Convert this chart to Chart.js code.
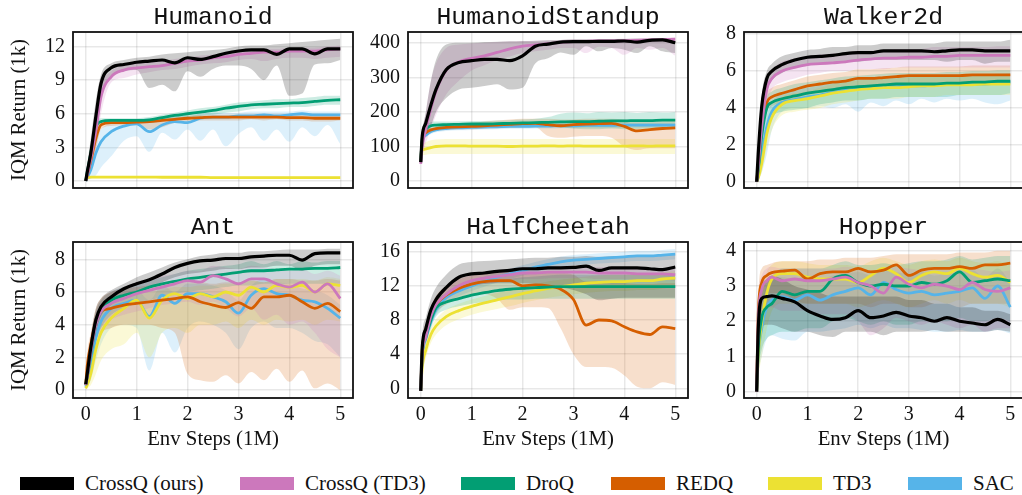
<!DOCTYPE html>
<html lang="en">
<head>
<meta charset="UTF-8">
<title>IQM Return - CrossQ benchmarks</title>
<style>
  body { margin:0; padding:0; background:#fff; width:1022px; height:495px; overflow:hidden; position:relative; font-family:"Liberation Serif", "Times New Roman", serif; }
  canvas { position:absolute; }
  .sw { position:absolute; top:477px; width:54px; height:13px; }
  .lt { position:absolute; top:473px; font-size:21px; line-height:21px; color:#111; white-space:nowrap; }
</style>
</head>
<body>
<canvas id="c-hum"></canvas>
<canvas id="c-hs"></canvas>
<canvas id="c-wk"></canvas>
<canvas id="c-ant"></canvas>
<canvas id="c-hc"></canvas>
<canvas id="c-hop"></canvas>
<div id="legend"></div>

<script src="https://cdn.jsdelivr.net/npm/chart.js"></script>
<script>
// x positions (1M env steps) shared by every curve
const steps = [0, 0.03, 0.1, 0.2, 0.3, 0.5, 0.75, 1, 1.25, 1.5, 1.75, 2, 2.25, 2.5, 2.75, 3, 3.25, 3.5, 3.75, 4, 4.25, 4.5, 4.75, 5];
const xTicks = [0, 1, 2, 3, 4, 5];

const algoNames  = ['CrossQ (ours)', 'CrossQ (TD3)', 'DroQ', 'REDQ', 'TD3', 'SAC'];
const algoColors = ['#000000', '#cc78bc', '#029e73', '#d55e00', '#ece133', '#56b4e9'];
const algoBands  = ['rgba(0,0,0,0.2)', 'rgba(204,120,188,0.2)', 'rgba(2,158,115,0.2)', 'rgba(213,94,0,0.2)', 'rgba(236,225,51,0.2)', 'rgba(86,180,233,0.2)'];

// ---- Humanoid ----
const hum_yticks = [0, 3, 6, 9, 12];
const hum_crossq    = [0, 0.8, 2.5, 5.8, 8.7, 10.1, 10.4, 10.6, 10.7, 10.8, 10.55, 11.0, 10.85, 11.1, 11.4, 11.6, 11.7, 11.7, 11.3, 11.8, 11.8, 11.35, 11.8, 11.8];
const hum_crossq_lo = [0, 0.3, 1.5, 4.5, 7.5, 9.3, 9.8, 9.9, 8.3, 8.6, 8.0, 9.8, 9.3, 10.0, 10.3, 10.3, 10.0, 9.0, 10.3, 7.6, 7.8, 10.4, 10.5, 10.8];
const hum_crossq_hi = [0.2, 1.5, 3.8, 7.2, 9.5, 10.5, 10.8, 11.0, 11.1, 11.3, 11.4, 11.5, 11.6, 11.7, 11.8, 12.0, 12.1, 12.1, 12.2, 12.3, 12.4, 12.5, 12.6, 12.7];
const hum_td3q      = [0, 0.5, 2.0, 4.5, 7.5, 9.3, 9.9, 10.1, 10.2, 10.3, 10.5, 10.7, 10.8, 11.0, 11.1, 11.3, 11.4, 11.5, 11.5, 11.6, 11.6, 11.6, 11.7, 11.8];
const hum_td3q_lo   = [0, 0.2, 1.0, 3.0, 6.0, 8.8, 9.2, 9.5, 9.7, 9.9, 10.0, 10.2, 10.4, 10.5, 10.6, 10.8, 10.9, 10.7, 10.9, 11.0, 11.0, 10.9, 11.0, 11.1];
const hum_td3q_hi   = [0.2, 1.2, 3.0, 6.0, 8.5, 9.8, 10.3, 10.5, 10.6, 10.7, 10.9, 11.0, 11.2, 11.3, 11.4, 11.6, 11.7, 11.8, 11.8, 11.9, 11.9, 11.9, 12.0, 12.1];
const hum_droq      = [0, 0.8, 2.5, 4.8, 5.3, 5.4, 5.4, 5.4, 5.45, 5.65, 5.85, 6.0, 6.15, 6.3, 6.5, 6.65, 6.8, 6.85, 6.9, 6.95, 7.0, 7.1, 7.2, 7.25];
const hum_droq_lo   = [0, 0.4, 1.8, 4.2, 5.0, 5.2, 5.2, 5.2, 5.2, 5.3, 5.5, 5.6, 5.8, 5.9, 6.1, 6.2, 6.4, 6.5, 6.5, 6.6, 6.6, 6.7, 6.8, 6.8];
const hum_droq_hi   = [0.2, 1.2, 3.2, 5.3, 5.6, 5.6, 5.6, 5.6, 5.7, 5.9, 6.1, 6.3, 6.5, 6.6, 6.8, 7.0, 7.1, 7.2, 7.3, 7.3, 7.4, 7.5, 7.6, 7.6];
const hum_redq      = [0, 0.5, 1.8, 3.8, 5.0, 5.2, 5.2, 5.25, 5.3, 5.4, 5.5, 5.6, 5.65, 5.7, 5.7, 5.7, 5.7, 5.7, 5.7, 5.65, 5.65, 5.6, 5.6, 5.6];
const hum_redq_lo   = [0, 0.2, 1.0, 2.8, 4.6, 4.9, 5.0, 5.0, 4.6, 4.8, 5.2, 5.3, 5.4, 5.4, 5.4, 5.4, 5.5, 5.4, 5.5, 5.4, 5.4, 5.3, 5.3, 5.4];
const hum_redq_hi   = [0.2, 0.9, 2.8, 4.8, 5.3, 5.4, 5.4, 5.5, 5.5, 5.6, 5.7, 5.8, 5.9, 5.9, 5.9, 5.9, 5.9, 5.9, 5.9, 5.9, 5.9, 5.8, 5.8, 5.8];
const hum_td3       = [0.25, 0.3, 0.35, 0.35, 0.35, 0.35, 0.35, 0.35, 0.35, 0.33, 0.33, 0.33, 0.33, 0.3, 0.3, 0.3, 0.3, 0.3, 0.3, 0.3, 0.3, 0.3, 0.3, 0.3];
const hum_td3_lo    = [0.15, 0.2, 0.25, 0.25, 0.25, 0.25, 0.25, 0.25, 0.25, 0.23, 0.23, 0.23, 0.23, 0.2, 0.2, 0.2, 0.2, 0.2, 0.2, 0.2, 0.2, 0.2, 0.2, 0.2];
const hum_td3_hi    = [0.35, 0.4, 0.45, 0.45, 0.45, 0.45, 0.45, 0.45, 0.45, 0.43, 0.43, 0.43, 0.43, 0.4, 0.4, 0.4, 0.4, 0.4, 0.4, 0.4, 0.4, 0.4, 0.4, 0.4];
const hum_sac       = [0, 0.3, 1.0, 2.5, 3.5, 4.4, 4.9, 5.1, 4.4, 5.0, 5.3, 5.2, 5.6, 5.7, 5.7, 5.8, 5.8, 5.9, 5.8, 5.9, 6.0, 5.9, 5.9, 5.9];
const hum_sac_lo    = [0, 0.1, 0.2, 0.5, 1.2, 2.2, 3.6, 4.0, 2.6, 4.3, 3.7, 4.6, 3.6, 4.6, 3.1, 4.2, 4.8, 3.6, 4.6, 3.5, 4.8, 4.0, 5.0, 3.3];
const hum_sac_hi    = [0.2, 0.6, 1.8, 3.8, 4.6, 5.2, 5.4, 5.5, 5.6, 5.6, 5.9, 5.8, 6.0, 6.1, 6.1, 6.1, 6.2, 6.2, 6.2, 6.2, 6.3, 6.2, 6.2, 6.2];

// ---- HumanoidStandup ----
const hs_yticks = [0, 100, 200, 300, 400];
const hs_crossq    = [55, 130, 168, 220, 265, 322, 343, 348, 352, 352, 348, 362, 390, 396, 402, 403, 403, 404, 404, 405, 402, 407, 408, 400];
const hs_crossq_lo = [50, 110, 130, 160, 200, 240, 265, 270, 275, 280, 265, 270, 340, 355, 372, 365, 390, 375, 385, 380, 370, 390, 375, 370];
const hs_crossq_hi = [55, 135, 200, 290, 350, 395, 400, 400, 402, 403, 404, 405, 406, 407, 408, 410, 410, 410, 410, 411, 412, 412, 413, 413];
const hs_td3q      = [50, 100, 150, 210, 260, 320, 345, 355, 362, 372, 382, 390, 394, 397, 401, 403, 404, 405, 405, 406, 407, 408, 409, 410];
const hs_td3q_lo   = [45, 70, 110, 150, 190, 250, 290, 320, 335, 350, 360, 370, 375, 380, 385, 385, 370, 388, 385, 365, 385, 380, 385, 362];
const hs_td3q_hi   = [55, 130, 200, 290, 340, 385, 395, 398, 400, 402, 404, 405, 406, 407, 408, 410, 410, 411, 411, 412, 413, 413, 414, 415];
const hs_droq      = [55, 125, 150, 160, 162, 163, 164, 165, 165, 166, 167, 168, 169, 170, 171, 172, 172, 173, 174, 174, 175, 175, 176, 176];
const hs_droq_lo   = [50, 110, 135, 150, 152, 154, 155, 156, 156, 157, 158, 158, 158, 157, 155, 152, 150, 150, 152, 150, 150, 152, 150, 150];
const hs_droq_hi   = [60, 135, 160, 170, 172, 172, 173, 174, 174, 175, 176, 178, 180, 185, 195, 198, 196, 200, 198, 200, 197, 200, 198, 200];
const hs_redq      = [55, 120, 140, 148, 152, 155, 157, 158, 160, 162, 164, 166, 167, 163, 160, 163, 165, 166, 167, 158, 145, 149, 152, 154];
const hs_redq_lo   = [50, 110, 130, 140, 145, 148, 150, 150, 152, 153, 154, 155, 155, 130, 125, 128, 130, 130, 125, 100, 90, 95, 95, 95];
const hs_redq_hi   = [60, 130, 150, 155, 158, 162, 165, 168, 172, 175, 178, 180, 180, 180, 178, 178, 180, 180, 180, 178, 175, 175, 175, 175];
const hs_td3       = [88, 90, 93, 97, 100, 102, 102, 101, 101, 101, 100, 101, 101, 102, 101, 102, 101, 101, 101, 101, 102, 101, 102, 102];
const hs_td3_lo    = [75, 75, 76, 78, 78, 78, 78, 78, 78, 78, 78, 78, 78, 78, 78, 78, 78, 78, 78, 78, 78, 78, 78, 78];
const hs_td3_hi    = [100, 105, 112, 118, 120, 122, 122, 122, 122, 122, 122, 122, 122, 122, 122, 122, 122, 122, 122, 122, 122, 122, 122, 122];
const hs_sac       = [55, 115, 133, 143, 148, 152, 154, 155, 156, 157, 158, 158, 159, 159, 160, 160, 161, 161, 161, 162, 162, 162, 162, 162];
const hs_sac_lo    = [50, 108, 126, 136, 141, 145, 147, 148, 149, 150, 151, 151, 152, 152, 153, 153, 154, 154, 154, 155, 155, 155, 155, 155];
const hs_sac_hi    = [60, 122, 140, 150, 155, 159, 161, 162, 163, 164, 165, 165, 166, 166, 167, 167, 168, 168, 168, 169, 169, 169, 169, 169];

// ---- Walker2d ----
const wk_yticks = [0, 2, 4, 6, 8];
const wk_crossq    = [0, 1.5, 4.1, 5.6, 6.0, 6.35, 6.6, 6.75, 6.8, 6.85, 6.95, 7.0, 7.0, 7.1, 7.1, 7.1, 7.1, 7.05, 7.1, 7.15, 7.15, 7.1, 7.1, 7.1];
const wk_crossq_lo = [0, 1.0, 3.5, 5.0, 5.5, 5.9, 6.2, 6.3, 6.4, 6.4, 6.5, 6.5, 6.6, 6.6, 6.6, 6.6, 6.6, 6.6, 6.5, 6.6, 6.6, 6.4, 6.5, 6.5];
const wk_crossq_hi = [0.2, 2.0, 4.7, 6.0, 6.4, 6.8, 7.0, 7.15, 7.2, 7.3, 7.3, 7.4, 7.4, 7.5, 7.5, 7.5, 7.5, 7.5, 7.6, 7.6, 7.6, 7.6, 7.6, 7.7];
const wk_td3q      = [0, 0.8, 3.0, 5.0, 5.6, 6.0, 6.2, 6.35, 6.4, 6.45, 6.5, 6.6, 6.65, 6.7, 6.7, 6.75, 6.75, 6.8, 6.8, 6.85, 6.85, 6.85, 6.85, 6.85];
const wk_td3q_lo   = [0, 0.3, 2.0, 4.2, 5.0, 5.4, 5.6, 5.8, 5.9, 6.0, 6.0, 6.1, 6.1, 6.1, 6.2, 6.2, 6.2, 6.2, 6.2, 6.2, 6.2, 6.2, 6.2, 6.2];
const wk_td3q_hi   = [0.2, 1.4, 4.0, 5.7, 6.1, 6.5, 6.7, 6.8, 6.9, 6.95, 7.0, 7.1, 7.1, 7.15, 7.2, 7.2, 7.2, 7.3, 7.3, 7.3, 7.3, 7.3, 7.35, 7.35];
const wk_droq      = [0, 0.6, 2.5, 4.0, 4.3, 4.5, 4.65, 4.8, 4.9, 5.0, 5.1, 5.15, 5.2, 5.25, 5.3, 5.3, 5.3, 5.3, 5.35, 5.35, 5.4, 5.4, 5.45, 5.45];
const wk_droq_lo   = [0, 0.3, 1.8, 3.3, 3.6, 3.8, 3.9, 4.0, 4.2, 4.3, 4.4, 4.4, 4.5, 4.5, 4.6, 4.6, 4.6, 4.6, 4.6, 4.7, 4.7, 4.7, 4.7, 4.8];
const wk_droq_hi   = [0.2, 1.0, 3.2, 4.6, 4.9, 5.1, 5.3, 5.4, 5.5, 5.6, 5.7, 5.75, 5.8, 5.85, 5.9, 5.9, 5.9, 5.9, 5.95, 5.95, 6.0, 6.0, 6.05, 6.05];
const wk_redq      = [0, 0.8, 3.0, 4.3, 4.6, 4.8, 5.0, 5.2, 5.3, 5.4, 5.45, 5.6, 5.6, 5.65, 5.7, 5.75, 5.75, 5.75, 5.75, 5.75, 5.8, 5.8, 5.8, 5.8];
const wk_redq_lo   = [0, 0.4, 2.4, 3.8, 4.1, 4.3, 4.5, 4.7, 4.8, 4.9, 4.95, 5.1, 5.1, 5.15, 5.2, 5.25, 5.25, 5.25, 5.25, 5.25, 5.3, 5.3, 5.3, 5.3];
const wk_redq_hi   = [0.2, 1.2, 3.6, 4.8, 5.1, 5.3, 5.5, 5.7, 5.8, 5.9, 5.95, 6.1, 6.1, 6.15, 6.2, 6.25, 6.25, 6.25, 6.25, 6.25, 6.3, 6.3, 6.3, 6.3];
const wk_td3       = [0, 0.2, 1.0, 2.6, 3.5, 4.2, 4.4, 4.5, 4.65, 4.8, 4.9, 5.0, 5.05, 5.1, 5.1, 5.15, 5.2, 5.2, 5.25, 5.25, 5.25, 5.3, 5.3, 5.3];
const wk_td3_lo    = [0, 0.1, 0.5, 1.8, 2.8, 3.6, 3.8, 3.9, 4.0, 4.2, 4.3, 4.4, 4.5, 4.5, 4.5, 4.6, 4.6, 4.6, 4.7, 4.7, 4.7, 4.7, 4.7, 4.7];
const wk_td3_hi    = [0.1, 0.5, 1.6, 3.3, 4.0, 4.6, 4.8, 4.9, 5.1, 5.3, 5.4, 5.5, 5.55, 5.6, 5.6, 5.65, 5.7, 5.7, 5.75, 5.75, 5.75, 5.8, 5.8, 5.8];
const wk_sac       = [0, 0.3, 1.5, 3.0, 3.8, 4.3, 4.45, 4.6, 4.7, 4.85, 4.95, 5.05, 5.1, 5.15, 5.15, 5.2, 5.2, 5.25, 5.3, 5.3, 5.3, 5.3, 5.35, 5.4];
const wk_sac_lo    = [0, 0.1, 0.5, 1.5, 2.8, 3.8, 4.0, 4.0, 4.1, 4.0, 4.2, 3.8, 4.3, 4.1, 4.4, 4.2, 4.5, 4.3, 4.5, 4.4, 4.5, 4.3, 4.2, 4.4];
const wk_sac_hi    = [0.1, 0.6, 2.2, 3.6, 4.3, 4.8, 4.95, 5.1, 5.2, 5.35, 5.45, 5.55, 5.6, 5.65, 5.65, 5.7, 5.7, 5.75, 5.8, 5.8, 5.8, 5.8, 5.85, 5.9];

// ---- Ant ----
const ant_yticks = [0, 2, 4, 6, 8];
const ant_crossq    = [0.35, 1.0, 2.6, 4.3, 5.1, 5.7, 6.2, 6.5, 6.75, 7.1, 7.5, 7.75, 7.9, 7.95, 8.05, 8.05, 8.15, 8.2, 8.25, 8.25, 7.95, 8.35, 8.4, 8.4];
const ant_crossq_lo = [0.1, 0.5, 1.8, 3.5, 4.5, 5.2, 5.7, 6.0, 6.3, 6.6, 6.9, 7.1, 7.2, 7.3, 7.4, 7.4, 7.5, 7.5, 7.6, 7.6, 7.3, 7.6, 7.7, 7.7];
const ant_crossq_hi = [0.5, 1.5, 3.3, 5.0, 5.6, 6.1, 6.5, 6.9, 7.2, 7.5, 7.8, 8.0, 8.2, 8.3, 8.4, 8.4, 8.5, 8.5, 8.55, 8.6, 8.6, 8.6, 8.65, 8.65];
const ant_td3q      = [0.3, 0.8, 2.3, 4.0, 4.8, 5.3, 5.6, 5.9, 6.1, 6.3, 6.5, 6.7, 6.6, 7.0, 6.8, 6.5, 6.8, 6.8, 6.5, 6.3, 6.6, 6.0, 6.5, 5.6];
const ant_td3q_lo   = [0.1, 0.3, 1.5, 3.0, 3.8, 4.3, 4.6, 4.8, 5.0, 5.2, 5.3, 5.4, 5.2, 5.4, 5.0, 4.5, 5.0, 4.3, 4.6, 4.0, 4.2, 3.5, 2.5, 2.0];
const ant_td3q_hi   = [0.5, 1.3, 3.0, 4.8, 5.5, 6.0, 6.3, 6.6, 6.8, 7.0, 7.1, 7.3, 7.3, 7.6, 7.5, 7.4, 7.6, 7.5, 7.4, 7.3, 7.4, 7.1, 7.3, 7.0];
const ant_droq      = [0.3, 0.8, 2.2, 4.0, 4.8, 5.5, 5.8, 6.0, 6.3, 6.5, 6.65, 6.8, 6.9, 7.0, 7.1, 7.2, 7.3, 7.3, 7.35, 7.4, 7.4, 7.45, 7.45, 7.5];
const ant_droq_lo   = [0.1, 0.4, 1.4, 3.0, 3.8, 4.6, 5.0, 5.3, 5.5, 5.7, 5.9, 6.0, 6.1, 6.2, 6.3, 6.4, 6.4, 6.5, 6.5, 6.5, 6.5, 6.5, 6.5, 6.5];
const ant_droq_hi   = [0.5, 1.2, 3.0, 4.8, 5.5, 6.0, 6.3, 6.5, 6.7, 6.9, 7.1, 7.3, 7.4, 7.5, 7.6, 7.7, 7.9, 7.7, 7.9, 7.7, 7.9, 7.8, 7.9, 7.9];
const ant_redq      = [0.3, 1.5, 2.8, 4.2, 4.8, 5.0, 5.2, 5.3, 5.4, 5.5, 5.6, 5.7, 5.4, 5.2, 5.05, 5.35, 5.0, 5.7, 5.7, 5.8, 5.4, 5.0, 5.3, 4.8];
const ant_redq_lo   = [0.1, 0.8, 2.0, 3.0, 3.5, 3.8, 4.0, 4.0, 4.0, 3.8, 3.5, 1.0, 0.6, 0.5, 0.9, 0.4, 1.1, 0.6, 1.3, 0.5, 1.2, 0.1, 0.4, 0.0];
const ant_redq_hi   = [0.6, 2.2, 3.5, 5.0, 5.6, 6.0, 6.2, 6.3, 6.4, 6.5, 6.5, 6.6, 6.6, 6.5, 6.6, 6.6, 6.7, 6.6, 6.8, 6.8, 6.7, 6.7, 6.8, 6.7];
const ant_td3       = [0.1, 0.3, 1.0, 2.5, 3.5, 4.4, 5.0, 5.5, 4.4, 5.5, 5.9, 5.6, 5.9, 5.7, 6.0, 5.8, 6.3, 6.0, 6.4, 6.3, 6.4, 6.0, 6.5, 6.4];
const ant_td3_lo    = [0, 0.1, 0.3, 1.0, 1.8, 2.5, 2.8, 3.5, 2.0, 3.5, 3.8, 3.5, 4.0, 4.0, 4.2, 3.8, 4.3, 4.0, 4.3, 4.2, 4.3, 4.0, 4.3, 4.2];
const ant_td3_hi    = [0.2, 0.6, 1.8, 3.5, 4.5, 5.2, 5.6, 6.0, 6.0, 6.1, 6.3, 6.3, 6.4, 6.4, 6.5, 6.5, 6.7, 6.6, 6.8, 6.8, 6.8, 6.7, 6.9, 6.8];
const ant_sac       = [0.2, 0.6, 1.5, 3.2, 4.2, 5.0, 5.3, 5.5, 4.5, 5.8, 5.3, 5.9, 5.9, 5.7, 5.4, 4.7, 5.8, 6.2, 5.9, 5.8, 5.5, 5.4, 5.0, 4.4];
const ant_sac_lo    = [0, 0.2, 0.6, 1.8, 2.8, 3.8, 4.0, 3.8, 1.2, 3.5, 2.3, 3.8, 4.2, 4.0, 3.5, 2.5, 3.8, 4.2, 3.8, 3.8, 3.5, 3.0, 2.8, 2.0];
const ant_sac_hi    = [0.4, 1.0, 2.2, 4.0, 4.8, 5.6, 5.9, 6.1, 5.5, 6.4, 6.0, 6.5, 6.5, 6.4, 6.1, 5.5, 6.4, 6.8, 6.6, 6.5, 6.2, 6.1, 5.8, 5.2];

// ---- HalfCheetah ----
const hc_yticks = [0, 4, 8, 12, 16];
const hc_crossq    = [-0.3, 4.8, 7.0, 9.2, 10.4, 11.8, 13.0, 13.4, 13.5, 13.7, 13.8, 14.0, 14.0, 14.1, 14.1, 14.15, 14.3, 13.8, 14.1, 14.1, 14.1, 14.0, 13.9, 14.2];
const hc_crossq_lo = [-0.5, 3.5, 5.8, 7.8, 9.0, 10.5, 11.5, 12.0, 12.2, 12.3, 12.3, 12.3, 12.2, 12.0, 11.8, 11.5, 11.0, 10.3, 10.5, 10.6, 10.6, 10.6, 10.6, 10.6];
const hc_crossq_hi = [0, 6.0, 8.3, 10.5, 11.8, 13.3, 14.5, 14.8, 14.9, 15.0, 15.1, 15.2, 15.3, 15.3, 15.4, 15.4, 15.5, 15.4, 15.5, 15.5, 15.5, 15.6, 15.6, 15.6];
const hc_td3q      = [-0.3, 4.0, 6.0, 8.5, 9.8, 11.0, 12.0, 12.6, 12.9, 13.1, 13.3, 13.5, 13.5, 13.6, 13.6, 13.6, 13.6, 13.5, 13.5, 13.5, 13.4, 13.4, 13.4, 13.3];
const hc_td3q_lo   = [-0.5, 3.2, 5.2, 7.6, 9.0, 10.3, 11.3, 11.9, 12.2, 12.4, 12.6, 12.8, 12.8, 12.9, 12.9, 12.9, 12.9, 12.8, 12.8, 12.8, 12.7, 12.7, 12.7, 12.6];
const hc_td3q_hi   = [0, 4.8, 6.8, 9.3, 10.6, 11.7, 12.7, 13.3, 13.6, 13.8, 14.0, 14.2, 14.2, 14.3, 14.3, 14.3, 14.3, 14.2, 14.2, 14.2, 14.1, 14.1, 14.1, 14.0];
const hc_droq      = [-0.3, 4.0, 6.0, 8.0, 9.4, 10.1, 10.5, 10.9, 11.2, 11.45, 11.6, 11.7, 11.8, 11.85, 11.9, 11.9, 11.9, 11.9, 11.9, 11.9, 11.9, 11.9, 11.9, 11.9];
const hc_droq_lo   = [-0.5, 3.0, 5.0, 7.0, 8.4, 9.2, 9.6, 9.9, 10.1, 10.3, 10.4, 10.4, 10.5, 10.5, 10.5, 10.5, 10.5, 10.5, 10.5, 10.5, 10.5, 10.5, 10.5, 10.5];
const hc_droq_hi   = [0, 5.0, 7.0, 9.0, 10.4, 11.0, 11.5, 11.9, 12.3, 12.6, 12.8, 13.0, 13.1, 13.2, 13.3, 13.3, 13.3, 13.3, 13.3, 13.3, 13.3, 13.3, 13.3, 13.3];
const hc_redq      = [-0.3, 4.5, 6.5, 8.5, 9.8, 10.9, 11.7, 12.2, 12.5, 12.6, 12.6, 12.0, 12.1, 12.0, 11.6, 10.4, 7.4, 8.0, 7.9, 7.2, 6.6, 6.3, 7.2, 7.0];
const hc_redq_lo   = [-0.5, 3.5, 5.5, 7.5, 8.8, 9.8, 10.5, 11.0, 11.0, 10.5, 9.2, 9.5, 9.5, 9.4, 7.0, 4.0, 2.5, 2.5, 2.4, 1.5, 0.2, 0.0, 0.7, 0.4];
const hc_redq_hi   = [0, 5.5, 7.5, 9.5, 10.8, 12.0, 12.8, 13.2, 13.4, 13.6, 13.6, 13.5, 13.5, 13.5, 13.5, 13.3, 12.5, 12.5, 12.5, 12.3, 12.2, 12.2, 12.3, 12.3];
const hc_td3       = [-0.3, 2.5, 4.5, 6.3, 7.3, 8.4, 9.1, 9.6, 10.0, 10.35, 10.7, 11.1, 11.4, 11.7, 11.9, 12.1, 12.3, 12.4, 12.5, 12.5, 12.6, 12.6, 12.8, 12.9];
const hc_td3_lo    = [-0.5, 1.5, 3.5, 5.3, 6.3, 7.4, 8.1, 8.6, 9.0, 9.3, 9.6, 10.0, 10.3, 10.6, 10.8, 11.0, 11.2, 11.3, 11.4, 11.4, 11.5, 11.5, 11.7, 11.8];
const hc_td3_hi    = [0, 3.3, 5.3, 7.1, 8.1, 9.2, 9.9, 10.4, 10.8, 11.15, 11.5, 11.9, 12.2, 12.5, 12.7, 12.9, 13.1, 13.2, 13.3, 13.3, 13.4, 13.4, 13.6, 13.7];
const hc_sac       = [-0.3, 3.8, 5.8, 7.8, 9.2, 10.6, 11.4, 12.0, 12.5, 13.0, 13.4, 13.8, 14.2, 14.5, 14.8, 15.0, 15.1, 15.2, 15.3, 15.4, 15.5, 15.5, 15.6, 15.7];
const hc_sac_lo    = [-0.5, 3.2, 5.2, 7.2, 8.6, 10.0, 10.8, 11.4, 11.9, 12.4, 12.8, 13.2, 13.6, 13.9, 14.2, 14.4, 14.5, 14.6, 14.7, 14.8, 14.9, 14.9, 15.0, 15.1];
const hc_sac_hi    = [0, 4.4, 6.4, 8.4, 9.8, 11.2, 12.0, 12.6, 13.1, 13.6, 14.0, 14.4, 14.8, 15.1, 15.4, 15.6, 15.7, 15.8, 15.9, 16.0, 16.1, 16.1, 16.2, 16.3];

// ---- Hopper ----
const hop_yticks = [0, 1, 2, 3, 4];
const hop_crossq    = [0, 1.75, 2.65, 2.7, 2.72, 2.65, 2.55, 2.3, 2.15, 2.05, 2.1, 2.3, 2.1, 2.15, 2.25, 2.15, 2.1, 2.0, 2.1, 2.0, 1.95, 1.9, 2.05, 1.9];
const hop_crossq_lo = [0, 1.2, 1.8, 1.9, 1.9, 1.8, 1.7, 1.7, 1.6, 1.55, 1.7, 1.7, 1.7, 1.6, 1.7, 1.7, 1.7, 1.75, 1.7, 1.7, 1.7, 1.7, 1.75, 1.7];
const hop_crossq_hi = [0, 2.2, 3.0, 3.2, 3.3, 3.2, 3.0, 2.9, 2.8, 2.7, 2.7, 2.7, 2.7, 2.7, 2.7, 2.6, 2.6, 2.5, 2.5, 2.4, 2.4, 2.3, 2.3, 2.2];
const hop_td3q      = [0, 2.0, 2.9, 3.15, 3.25, 3.15, 3.2, 3.15, 3.15, 3.2, 3.25, 3.1, 3.0, 2.8, 3.25, 3.05, 2.95, 3.05, 3.0, 2.9, 3.1, 2.9, 2.85, 2.95];
const hop_td3q_lo   = [0, 1.4, 2.2, 2.4, 2.4, 2.3, 2.3, 2.3, 2.2, 2.2, 2.2, 2.0, 1.6, 1.8, 2.1, 2.0, 1.9, 2.0, 1.9, 1.8, 1.9, 1.7, 1.8, 1.8];
const hop_td3q_hi   = [0, 2.5, 3.3, 3.5, 3.55, 3.5, 3.5, 3.5, 3.5, 3.5, 3.55, 3.5, 3.45, 3.4, 3.55, 3.5, 3.45, 3.5, 3.45, 3.45, 3.5, 3.45, 3.4, 3.45];
const hop_droq      = [0, 1.2, 2.1, 2.4, 2.5, 2.85, 2.75, 2.85, 2.85, 3.2, 3.3, 3.1, 3.0, 3.05, 3.0, 3.0, 3.1, 3.05, 3.15, 3.4, 3.1, 3.15, 3.2, 3.15];
const hop_droq_lo   = [0, 0.6, 1.2, 1.5, 1.6, 1.7, 1.7, 1.8, 1.8, 2.0, 2.1, 2.0, 1.9, 2.0, 1.9, 1.9, 2.0, 2.0, 2.0, 2.1, 2.0, 2.0, 2.1, 2.0];
const hop_droq_hi   = [0, 1.8, 2.9, 3.2, 3.3, 3.5, 3.5, 3.5, 3.5, 3.6, 3.7, 3.6, 3.6, 3.65, 3.6, 3.65, 3.7, 3.7, 3.75, 3.85, 3.75, 3.8, 3.85, 3.85];
const hop_redq      = [0, 2.2, 3.1, 3.3, 3.38, 3.42, 3.45, 3.2, 3.35, 3.4, 3.4, 3.5, 3.4, 3.45, 3.6, 3.3, 3.45, 3.5, 3.5, 3.55, 3.5, 3.6, 3.6, 3.65];
const hop_redq_lo   = [0, 1.6, 2.5, 2.8, 2.8, 2.8, 2.6, 2.5, 2.5, 2.5, 2.5, 2.5, 2.4, 2.5, 2.5, 2.4, 2.4, 2.5, 2.5, 2.4, 2.5, 2.5, 2.5, 2.5];
const hop_redq_hi   = [0, 2.6, 3.5, 3.6, 3.65, 3.7, 3.7, 3.7, 3.75, 3.75, 3.8, 3.8, 3.8, 3.85, 3.9, 3.9, 3.9, 3.9, 3.9, 3.95, 3.95, 3.95, 4.0, 4.0];
const hop_td3       = [0, 1.0, 2.0, 2.8, 3.2, 3.35, 3.35, 3.25, 3.2, 3.2, 3.2, 3.1, 3.3, 3.5, 3.35, 3.1, 3.3, 3.4, 3.35, 3.5, 3.35, 3.25, 3.3, 3.1];
const hop_td3_lo    = [0, 0.4, 1.0, 1.8, 2.3, 2.5, 2.5, 2.5, 2.5, 2.5, 2.5, 2.4, 2.5, 2.6, 2.5, 2.4, 2.5, 2.6, 2.5, 2.6, 2.5, 2.5, 2.5, 2.4];
const hop_td3_hi    = [0, 1.6, 2.8, 3.4, 3.6, 3.7, 3.7, 3.65, 3.6, 3.6, 3.6, 3.55, 3.7, 3.8, 3.7, 3.6, 3.7, 3.75, 3.7, 3.8, 3.7, 3.65, 3.7, 3.6];
const hop_sac       = [0, 1.0, 1.8, 2.4, 2.6, 2.7, 2.6, 2.75, 2.6, 2.75, 2.85, 2.95, 2.75, 3.1, 2.9, 2.8, 2.85, 2.75, 2.8, 2.85, 2.95, 2.65, 3.0, 2.4];
const hop_sac_lo    = [0, 0.5, 1.0, 1.5, 1.6, 1.5, 1.45, 1.7, 1.7, 1.75, 1.8, 1.9, 1.8, 1.9, 1.8, 1.8, 1.75, 1.7, 1.7, 1.75, 1.7, 1.7, 1.75, 1.65];
const hop_sac_hi    = [0, 1.5, 2.5, 3.0, 3.2, 3.25, 3.2, 3.3, 3.2, 3.3, 3.35, 3.4, 3.3, 3.5, 3.4, 3.35, 3.4, 3.3, 3.35, 3.4, 3.45, 3.25, 3.5, 3.1];

// layout of the 2x3 grid (canvas boxes, axis sizes)
const colLeft = [0, 355, 696], colWidth = [357, 337, 331], yAxisW = [73, 53, 48];
const rowTop = [2, 212], rowHeight = [190, 243], xAxisH = [4, 57];

const panels = [
  { id:'c-hum', title:'Humanoid', col:0, row:0, min:-0.63, max:13.3, yticks:hum_yticks, series:[
    [hum_crossq, hum_crossq_lo, hum_crossq_hi], [hum_td3q, hum_td3q_lo, hum_td3q_hi], [hum_droq, hum_droq_lo, hum_droq_hi],
    [hum_redq, hum_redq_lo, hum_redq_hi], [hum_td3, hum_td3_lo, hum_td3_hi], [hum_sac, hum_sac_lo, hum_sac_hi] ] },
  { id:'c-hs', title:'HumanoidStandup', col:1, row:0, min:-20, max:431, yticks:hs_yticks, series:[
    [hs_crossq, hs_crossq_lo, hs_crossq_hi], [hs_td3q, hs_td3q_lo, hs_td3q_hi], [hs_droq, hs_droq_lo, hs_droq_hi],
    [hs_redq, hs_redq_lo, hs_redq_hi], [hs_td3, hs_td3_lo, hs_td3_hi], [hs_sac, hs_sac_lo, hs_sac_hi] ] },
  { id:'c-wk', title:'Walker2d', col:2, row:0, min:-0.34, max:8.12, yticks:wk_yticks, series:[
    [wk_crossq, wk_crossq_lo, wk_crossq_hi], [wk_td3q, wk_td3q_lo, wk_td3q_hi], [wk_droq, wk_droq_lo, wk_droq_hi],
    [wk_redq, wk_redq_lo, wk_redq_hi], [wk_td3, wk_td3_lo, wk_td3_hi], [wk_sac, wk_sac_lo, wk_sac_hi] ] },
  { id:'c-ant', title:'Ant', col:0, row:1, min:-0.49, max:9.06, yticks:ant_yticks, series:[
    [ant_crossq, ant_crossq_lo, ant_crossq_hi], [ant_td3q, ant_td3q_lo, ant_td3q_hi], [ant_droq, ant_droq_lo, ant_droq_hi],
    [ant_redq, ant_redq_lo, ant_redq_hi], [ant_td3, ant_td3_lo, ant_td3_hi], [ant_sac, ant_sac_lo, ant_sac_hi] ] },
  { id:'c-hc', title:'HalfCheetah', col:1, row:1, min:-1.13, max:17.13, yticks:hc_yticks, series:[
    [hc_crossq, hc_crossq_lo, hc_crossq_hi], [hc_td3q, hc_td3q_lo, hc_td3q_hi], [hc_droq, hc_droq_lo, hc_droq_hi],
    [hc_redq, hc_redq_lo, hc_redq_hi], [hc_td3, hc_td3_lo, hc_td3_hi], [hc_sac, hc_sac_lo, hc_sac_hi] ] },
  { id:'c-hop', title:'Hopper', col:2, row:1, min:-0.18, max:4.25, yticks:hop_yticks, series:[
    [hop_crossq, hop_crossq_lo, hop_crossq_hi], [hop_td3q, hop_td3q_lo, hop_td3q_hi], [hop_droq, hop_droq_lo, hop_droq_hi],
    [hop_redq, hop_redq_lo, hop_redq_hi], [hop_td3, hop_td3_lo, hop_td3_hi], [hop_sac, hop_sac_lo, hop_sac_hi] ] }
];

const SERIF = '"Liberation Serif", "Times New Roman", serif';
const MONO  = '"Liberation Mono", "Courier New", monospace';
const gridColor = 'rgba(0,0,0,0.09)';

// black frame around every plot area
const framePlugin = {
  id: 'frame',
  afterDraw(chart) {
    const { ctx, chartArea: a } = chart;
    ctx.save();
    ctx.strokeStyle = '#111';
    ctx.lineWidth = 1.8;
    ctx.strokeRect(a.left, a.top, a.right - a.left, a.bottom - a.top);
    ctx.restore();
  }
};

function pts(arr) { return steps.map((x, i) => ({ x: x, y: arr[i] })); }

panels.forEach(p => {
  const cv = document.getElementById(p.id);
  cv.width = colWidth[p.col];
  cv.height = rowHeight[p.row];
  cv.style.left = colLeft[p.col] + 'px';
  cv.style.top = rowTop[p.row] + 'px';

  const datasets = [];
  // bands first (lo + hi filled to lo), then the mean lines
  p.series.forEach((s, k) => {
    const loIdx = datasets.length;
    datasets.push({ data: pts(s[1]), borderColor: 'transparent', borderWidth: 1, pointRadius: 0, fill: false,
                    cubicInterpolationMode: 'monotone', order: 20 + k });
    datasets.push({ data: pts(s[2]), borderColor: 'transparent', borderWidth: 1, pointRadius: 0, fill: loIdx,
                    backgroundColor: algoBands[k], cubicInterpolationMode: 'monotone', order: 20 + k });
  });
  p.series.forEach((s, k) => {
    datasets.push({ label: algoNames[k], data: pts(s[0]), borderColor: algoColors[k], borderWidth: k === 0 ? 3.2 : 2.8,
                    pointRadius: 0, fill: false, cubicInterpolationMode: 'monotone', order: k });
  });

  const bottomRow = p.row === 1;
  new Chart(cv, {
    type: 'line',
    data: { datasets },
    options: {
      responsive: false,
      animation: false,
      layout: { padding: { left: 0, right: 4, top: 0, bottom: 0 } },
      plugins: {
        legend: { display: false },
        tooltip: { enabled: false },
        title: { display: true, text: p.title, fullSize: false, color: '#111',
                 font: { family: MONO, size: 24.8, weight: 'normal', lineHeight: 1 },
                 padding: { top: 2.6, bottom: 2.6 } }
      },
      scales: {
        x: {
          type: 'linear', min: -0.25, max: 5.25,
          afterBuildTicks: s => { s.ticks = xTicks.map(v => ({ value: v })); },
          afterFit: s => { s.height = xAxisH[p.row]; s.paddingLeft = 0; s.paddingRight = 0; },
          grid: { color: gridColor, lineWidth: 1.5, drawTicks: false },
          border: { display: false },
          ticks: { display: bottomRow, autoSkip: false, maxRotation: 0, padding: 5, color: '#111',
                   font: { family: SERIF, size: 20 }, callback: v => String(v) },
          title: { display: bottomRow, text: 'Env Steps (1M)', color: '#111',
                   font: { family: SERIF, size: 20.8, lineHeight: 1 }, padding: { top: 0, bottom: 5 } }
        },
        y: {
          type: 'linear', min: p.min, max: p.max,
          afterBuildTicks: s => { s.ticks = p.yticks.map(v => ({ value: v })); },
          afterFit: s => { s.width = yAxisW[p.col]; s.paddingTop = 0; s.paddingBottom = 0; },
          grid: { color: gridColor, lineWidth: 1.5, drawTicks: false },
          border: { display: false },
          ticks: { autoSkip: false, padding: 8, color: '#111', font: { family: SERIF, size: 20 }, callback: v => String(v) },
          title: { display: p.col === 0, text: 'IQM Return (1k)', color: '#111',
                   font: { family: SERIF, size: 20.8, lineHeight: 1 }, padding: { top: 9, bottom: 0 } }
        }
      }
    },
    plugins: [framePlugin]
  });
});

// legend row
const legendLeft = [20, 240, 461, 611, 768, 908];
const legend = document.getElementById('legend');
algoNames.forEach((name, k) => {
  const sw = document.createElement('div');
  sw.className = 'sw';
  sw.style.left = legendLeft[k] + 'px';
  sw.style.background = algoColors[k];
  legend.appendChild(sw);
  const t = document.createElement('div');
  t.className = 'lt';
  t.style.left = (legendLeft[k] + 65) + 'px';
  t.textContent = name;
  legend.appendChild(t);
});
</script>
</body>
</html>
